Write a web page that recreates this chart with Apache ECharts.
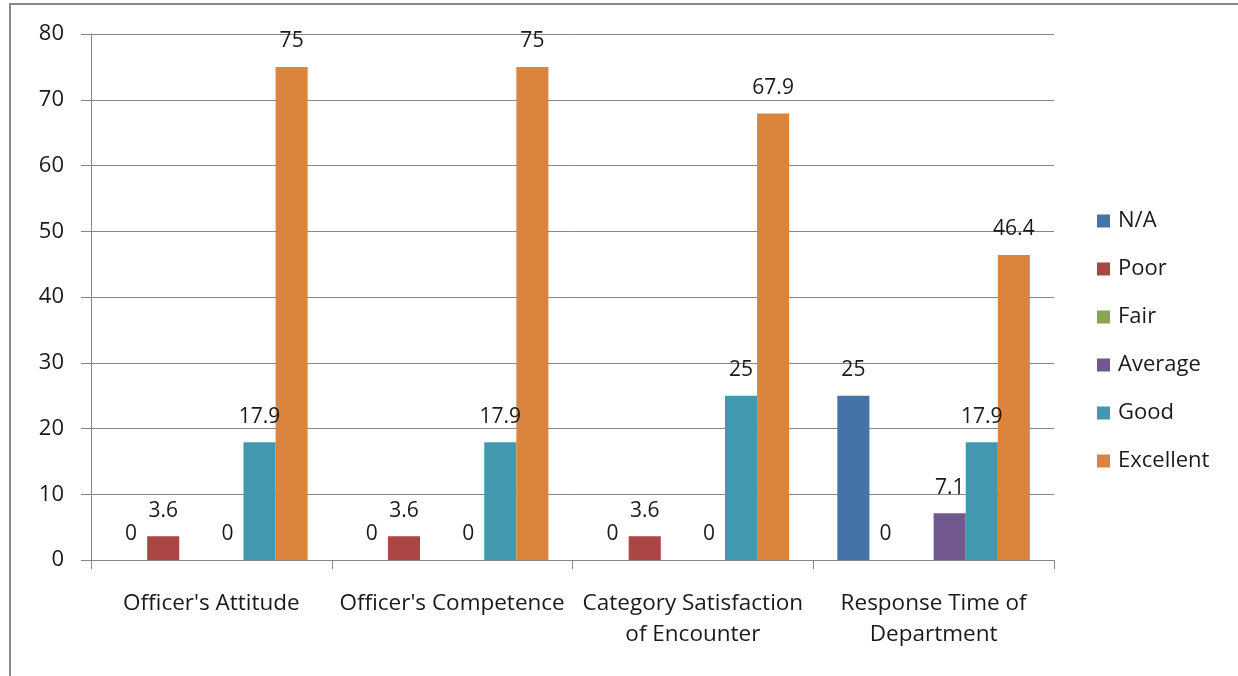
<!DOCTYPE html>
<html>
<head>
<meta charset="utf-8">
<script src="https://cdn.jsdelivr.net/npm/echarts@6/dist/echarts.min.js"></script>
<style>
html,body{margin:0;padding:0;background:#fff;}
#chart{width:1238px;height:676px;position:relative;}
#frame{position:absolute;left:9px;top:3px;width:1300px;height:800px;border-left:2px solid #8a8a8a;border-top:2px solid #8a8a8a;pointer-events:none;}
</style>
</head>
<body>
<div id="chart"></div>
<div id="frame"></div>
<script>
var categories = ["Officer's Attitude", "Officer's Competence", "Category Satisfaction\nof Encounter", "Response Time of\nDepartment"];
var seriesNames = ["N/A", "Poor", "Fair", "Average", "Good", "Excellent"];
var naValues = [0, 0, 0, 25];
var poorValues = [3.6, 3.6, 3.6, 0];
var fairValues = [null, null, null, null];
var averageValues = [0, 0, 0, 7.1];
var goodValues = [17.9, 17.9, 25, 17.9];
var excellentValues = [75, 75, 67.9, 46.4];
var yTicks = [0, 10, 20, 30, 40, 50, 60, 70, 80];

var colors = ['#4572A7', '#AA4643', '#89A54E', '#71588F', '#4198AF', '#DB843D'];
var allValues = [naValues, poorValues, fairValues, averageValues, goodValues, excellentValues];
var FONT = 'Open Sans';
var TXT = '#1a1a1a';

var series = seriesNames.map(function (name, i) {
  return {
    name: name,
    type: 'bar',
    data: allValues[i],
    barGap: '0%',
    barCategoryGap: '20%',
    itemStyle: { color: colors[i] },
    label: {
      show: true,
      position: 'top',
      distance: 15,
      color: TXT,
      fontFamily: FONT,
      fontSize: 21
    }
  };
});

var chart = echarts.init(document.getElementById('chart'));
chart.setOption({
  animation: false,
  color: colors,
  grid: { left: 91, right: 184, top: 34, bottom: 116, containLabel: false },
  legend: {
    orient: 'vertical',
    left: 1092,
    top: 205,
    itemWidth: 13,
    itemHeight: 13,
    itemGap: 26,
    icon: 'rect',
    textStyle: { color: TXT, fontFamily: FONT, fontSize: 22, lineHeight: 22, padding: [0, 0, 0, 3] },
    data: seriesNames
  },
  xAxis: {
    type: 'category',
    data: categories,
    axisLine: { show: true, lineStyle: { color: '#868686', width: 1 } },
    axisTick: { show: true, length: 9, lineStyle: { color: '#868686' } },
    axisLabel: { color: TXT, fontFamily: FONT, fontSize: 22.5, lineHeight: 31, margin: 28, interval: 0 }
  },
  yAxis: {
    type: 'value',
    min: yTicks[0],
    max: yTicks[yTicks.length - 1],
    interval: 10,
    axisLine: { show: true, lineStyle: { color: '#868686', width: 1 } },
    axisTick: { show: true, length: 10, lineStyle: { color: '#868686' } },
    splitLine: { show: true, lineStyle: { color: '#868686', width: 1 } },
    axisLabel: { color: TXT, fontFamily: FONT, fontSize: 22, margin: 27 }
  },
  series: series
});
</script>
</body>
</html>
